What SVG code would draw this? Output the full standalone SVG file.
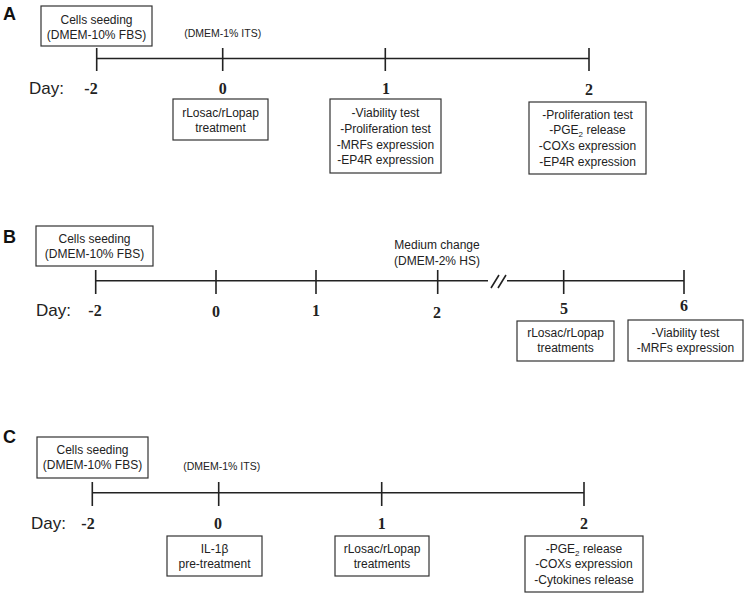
<svg xmlns="http://www.w3.org/2000/svg" width="747" height="595" viewBox="0 0 747 595">
<style>
.bg{fill:#fff}
.box{fill:#fff;stroke:#333;stroke-width:1.2}
.ln{stroke:#222;stroke-width:1.6;fill:none}
.t{font-family:"Liberation Sans",Arial,sans-serif;font-size:12px;fill:#222;text-anchor:middle}
.s{font-family:"Liberation Sans",Arial,sans-serif;font-size:10.5px;fill:#222;text-anchor:middle}
.day{font-family:"Liberation Sans",Arial,sans-serif;font-size:17px;fill:#222}
.n{font-family:"Liberation Serif","Times New Roman",serif;font-weight:bold;font-size:16px;fill:#222;text-anchor:middle}
.p{font-family:"Liberation Sans",Arial,sans-serif;font-weight:bold;font-size:18px;fill:#111}
.sub{font-size:8px}
</style>
<rect class="bg" x="0" y="0" width="747" height="595"/>

<g id="connectors">
  <!-- A -->
  <path class="ln" d="M96.7 58.5 H589 M96.7 48 V71 M222.7 48 V71 M385.3 48 V71 M589 48 V71"/>
  <!-- B -->
  <path class="ln" d="M95.7 280.7 H488 M507 280.7 H684 M95.7 270 V294 M216 270 V294 M316 270 V294 M437.7 270 V294 M563.7 270 V294 M684 270 V294"/>
  <path class="ln" d="M491 288 L499 275 M498 288 L506 275" stroke-width="1.3"/>
  <!-- C -->
  <path class="ln" d="M92.3 492.7 H584 M92.3 482 V506 M218.7 482 V506 M381.7 482 V506 M584 482 V506"/>
</g>

<!-- Panel A -->
<g id="panelA-label"><text class="p" x="3" y="20">A</text></g>
<g id="A-seed">
  <rect class="box" x="41" y="6" width="111" height="40"/>
  <text class="t" x="96.5" y="24">Cells seeding</text>
  <text class="t" x="96.5" y="39">(DMEM-10% FBS)</text>
</g>
<g id="A-its"><text class="s" x="222.7" y="37">(DMEM-1% ITS)</text></g>
<g id="A-days">
  <text class="day" x="29" y="94">Day:</text>
  <text class="n" x="91" y="94">-2</text>
  <text class="n" x="222.7" y="94">0</text>
  <text class="n" x="386" y="94">1</text>
  <text class="n" x="589" y="95">2</text>
</g>
<g id="A-d0">
  <rect class="box" x="173" y="99" width="95" height="41"/>
  <text class="t" x="220.5" y="117">rLosac/rLopap</text>
  <text class="t" x="220.5" y="132">treatment</text>
</g>
<g id="A-d1">
  <rect class="box" x="330" y="99" width="111" height="74"/>
  <text class="t" x="385.5" y="117">-Viability test</text>
  <text class="t" x="385.5" y="133">-Proliferation test</text>
  <text class="t" x="385.5" y="148.5">-MRFs expression</text>
  <text class="t" x="385.5" y="164">-EP4R expression</text>
</g>
<g id="A-d2">
  <rect class="box" x="529" y="102" width="117" height="72"/>
  <text class="t" x="587.5" y="118.5">-Proliferation test</text>
  <text class="t" x="587.5" y="134">-PGE<tspan class="sub" dy="3">2</tspan><tspan dy="-3"> release</tspan></text>
  <text class="t" x="587.5" y="150">-COXs expression</text>
  <text class="t" x="587.5" y="166">-EP4R expression</text>
</g>

<!-- Panel B -->
<g id="panelB-label"><text class="p" x="3" y="243">B</text></g>
<g id="B-seed">
  <rect class="box" x="36" y="226" width="117" height="40"/>
  <text class="t" x="94.5" y="243">Cells seeding</text>
  <text class="t" x="94.5" y="258">(DMEM-10% FBS)</text>
</g>
<g id="B-medium">
  <text class="t" x="437" y="249">Medium change</text>
  <text class="t" x="437" y="265">(DMEM-2% HS)</text>
</g>
<g id="B-days">
  <text class="day" x="36" y="316">Day:</text>
  <text class="n" x="95" y="316">-2</text>
  <text class="n" x="216" y="317">0</text>
  <text class="n" x="316" y="316">1</text>
  <text class="n" x="437" y="318">2</text>
  <text class="n" x="564" y="314">5</text>
  <text class="n" x="684" y="311">6</text>
</g>
<g id="B-d5">
  <rect class="box" x="517" y="321" width="97" height="40"/>
  <text class="t" x="565.5" y="337">rLosac/rLopap</text>
  <text class="t" x="565.5" y="352">treatments</text>
</g>
<g id="B-d6">
  <rect class="box" x="628" y="320" width="115" height="41"/>
  <text class="t" x="685.5" y="337">-Viability test</text>
  <text class="t" x="685.5" y="352">-MRFs expression</text>
</g>

<!-- Panel C -->
<g id="panelC-label"><text class="p" x="3" y="443">C</text></g>
<g id="C-seed">
  <rect class="box" x="37" y="437" width="111" height="41"/>
  <text class="t" x="92.5" y="454">Cells seeding</text>
  <text class="t" x="92.5" y="469">(DMEM-10% FBS)</text>
</g>
<g id="C-its"><text class="s" x="221.7" y="470">(DMEM-1% ITS)</text></g>
<g id="C-days">
  <text class="day" x="31" y="529">Day:</text>
  <text class="n" x="88" y="529">-2</text>
  <text class="n" x="218" y="529">0</text>
  <text class="n" x="381.7" y="529">1</text>
  <text class="n" x="584" y="529">2</text>
</g>
<g id="C-d0">
  <rect class="box" x="167" y="536" width="95" height="40"/>
  <text class="t" x="214.5" y="553">IL-1β</text>
  <text class="t" x="214.5" y="568">pre-treatment</text>
</g>
<g id="C-d1">
  <rect class="box" x="335" y="536" width="94" height="40"/>
  <text class="t" x="382" y="553">rLosac/rLopap</text>
  <text class="t" x="382" y="568">treatments</text>
</g>
<g id="C-d2">
  <rect class="box" x="525" y="536" width="118" height="56"/>
  <text class="t" x="584" y="553">-PGE<tspan class="sub" dy="3">2</tspan><tspan dy="-3"> release</tspan></text>
  <text class="t" x="584" y="568">-COXs expression</text>
  <text class="t" x="584" y="584">-Cytokines release</text>
</g>
</svg>
